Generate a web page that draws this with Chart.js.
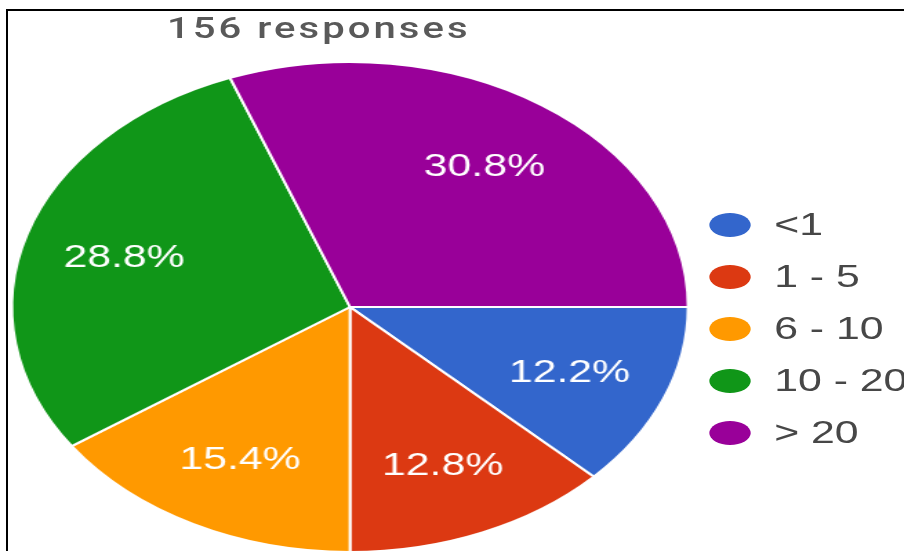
<!DOCTYPE html>
<html>
<head>
<meta charset="utf-8">
<title>156 responses</title>
<script src="https://cdn.jsdelivr.net/npm/chart.js@4.4.1/dist/chart.umd.min.js"></script>
<style>
  body {
    margin: 0;
    width: 904px;
    height: 551px;
    overflow: hidden;
    background: #fff;
    position: relative;
    font-family: "Liberation Sans", Arial, sans-serif;
  }
  /* the picture is stretched sideways, so everything sits in a scaled stage */
  #stage {
    position: absolute;
    left: 0;
    top: 0;
    width: 680px;
    height: 553px;
    transform: scaleX(1.38);
    transform-origin: 0 0;
  }
  #chartBox {
    position: absolute;
    left: 0;
    top: 0;
    width: 680px;
    height: 553px;
  }
  #title {
    position: absolute;
    left: 121px;
    top: 14px;
    font-family: Roboto, "Liberation Sans", sans-serif;
    font-weight: 500;
    font-size: 29px;
    line-height: 29px;
    letter-spacing: 2.2px;
    color: #595959;
    white-space: nowrap;
  }
  #legend {
    position: absolute;
    left: 514px;
    top: 209px;
  }
  .item {
    position: absolute;
    left: 0;
    height: 32px;
    display: flex;
    align-items: center;
    font-size: 31px;
    line-height: 32px;
    color: #474747;
    white-space: nowrap;
  }
  .dot {
    display: inline-block;
    width: 30px;
    height: 24px;
    border-radius: 50%;
    margin-right: 17px;
  }
  #frame {
    position: absolute;
    left: 6px;
    top: 9px;
    width: 920px;
    height: 560px;
    border-top: 2px solid #000;
    border-left: 2px solid #000;
  }
</style>
</head>
<body>
<div id="stage">
  <div id="chartBox"><canvas id="pieChart"></canvas></div>
  <div id="title">156 responses</div>
  <div id="legend"></div>
</div>
<div id="frame"></div>

<script>
var categories = ["<1", "1 - 5", "6 - 10", "10 - 20", "> 20"];
var counts = [19, 20, 24, 45, 48];
var colors = ["#3366cc", "#dc3912", "#ff9900", "#109618", "#990099"];

var total = counts.reduce(function (a, b) { return a + b; }, 0);
var percentLabels = counts.map(function (c) {
  return (c / total * 100).toFixed(1) + "%";
});

// percent text inside each slice, placed on the arc's mid angle
var sliceLabels = {
  id: "sliceLabels",
  afterDatasetsDraw: function (chart) {
    var ctx = chart.ctx;
    var meta = chart.getDatasetMeta(0);
    ctx.save();
    ctx.font = '31px "Liberation Sans", Arial, sans-serif';
    ctx.fillStyle = "#ffffff";
    ctx.textAlign = "center";
    ctx.textBaseline = "middle";
    meta.data.forEach(function (arc, i) {
      var p = arc.getProps(["x", "y", "startAngle", "endAngle", "outerRadius"], true);
      var mid = (p.startAngle + p.endAngle) / 2;
      var r = p.outerRadius * 0.7;
      ctx.fillText(percentLabels[i], p.x + Math.cos(mid) * r, p.y + Math.sin(mid) * r + 2);
    });
    ctx.restore();
  }
};

var ctx = document.getElementById("pieChart").getContext("2d");
var myChart = new Chart(ctx, {
  type: "pie",
  data: {
    labels: categories,
    datasets: [
      {
        data: counts,
        backgroundColor: colors,
        borderColor: "#ffffff",
        borderWidth: 2,
        hoverOffset: 0
      }
    ]
  },
  options: {
    responsive: true,
    maintainAspectRatio: false,
    animation: false,
    events: [],
    rotation: 90,
    layout: {
      padding: { left: 7.6, top: 61, right: 180.4, bottom: 0 }
    },
    plugins: {
      legend: { display: false },
      title: { display: false },
      tooltip: { enabled: false }
    }
  },
  plugins: [sliceLabels]
});

// legend built from the same arrays
var legend = document.getElementById("legend");
categories.forEach(function (name, i) {
  var row = document.createElement("div");
  row.className = "item";
  row.style.top = (i * 52) + "px";
  var dot = document.createElement("span");
  dot.className = "dot";
  dot.style.background = colors[i];
  row.appendChild(dot);
  row.appendChild(document.createTextNode(name));
  legend.appendChild(row);
});
</script>
</body>
</html>
